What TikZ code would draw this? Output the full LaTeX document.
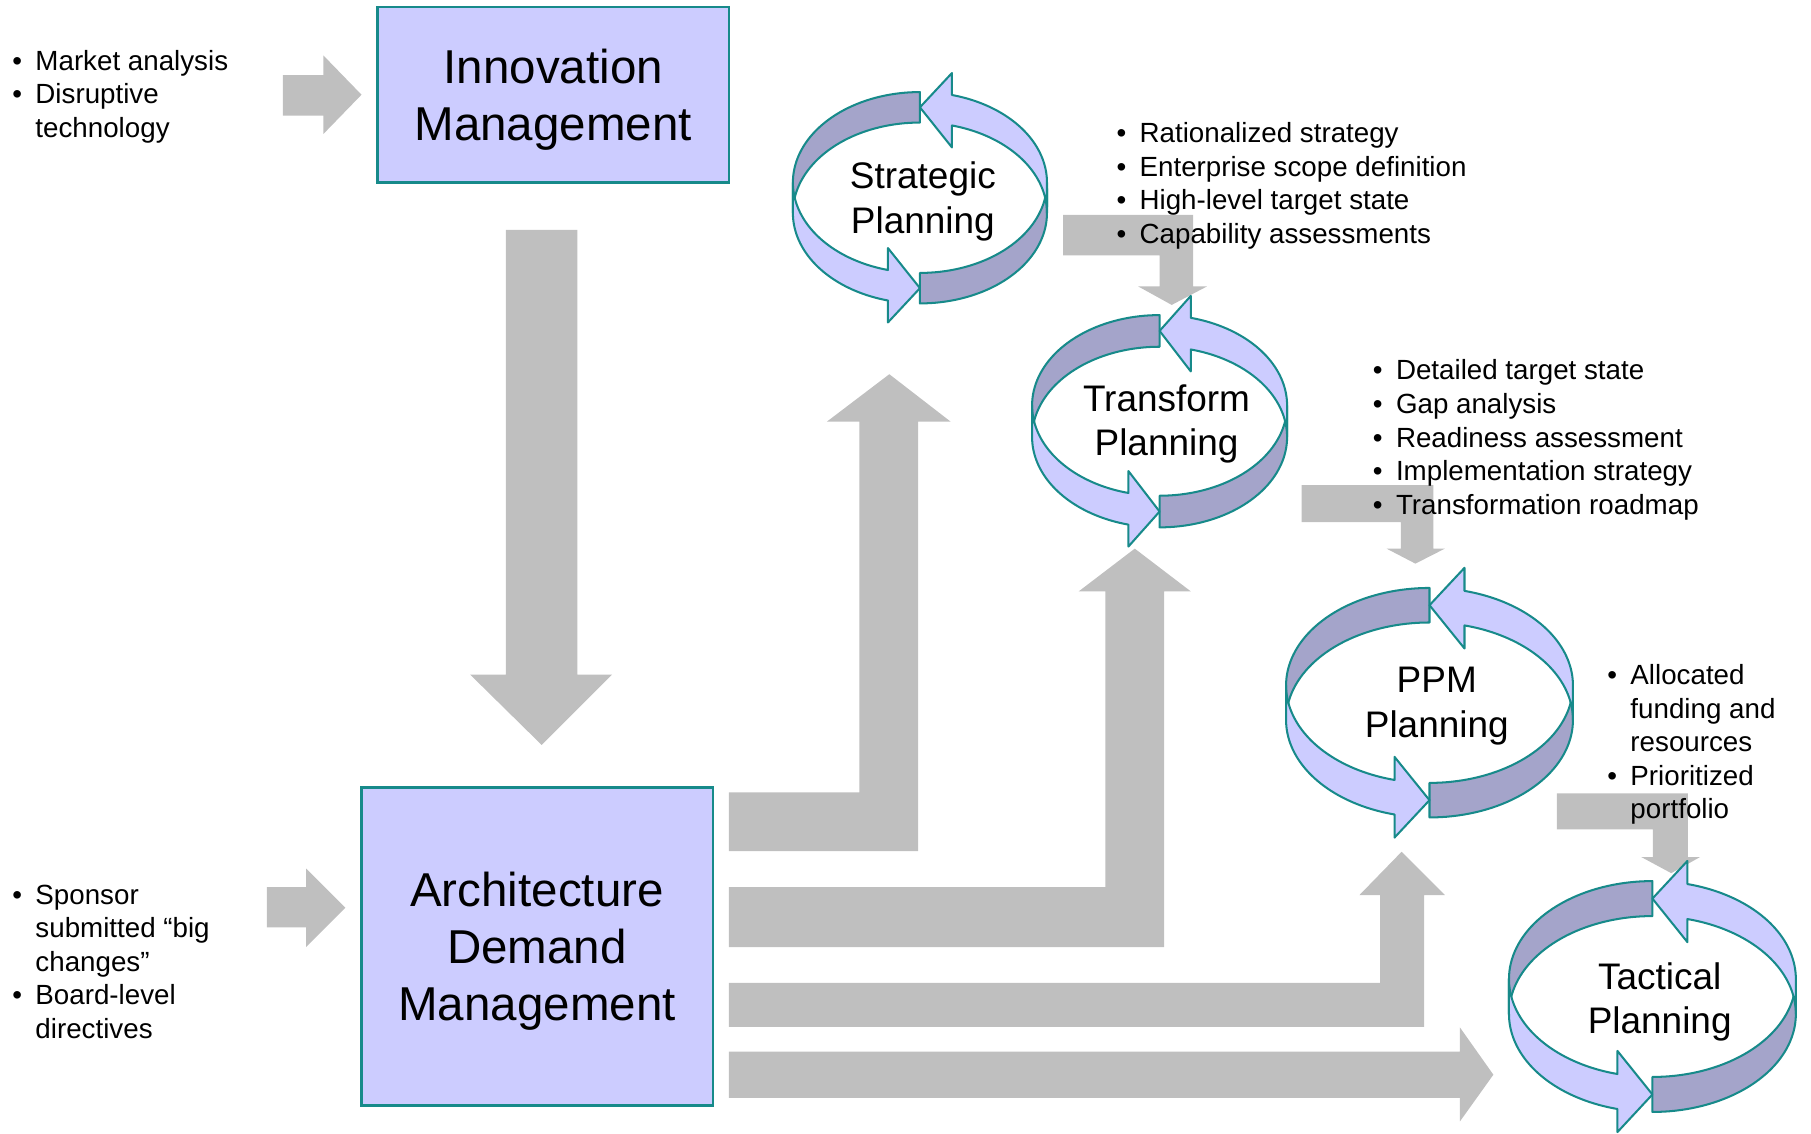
\documentclass[tikz,border=0pt]{standalone}
\usepackage{fontspec}
\setmainfont{Liberation Sans}
\usepackage{tikz}
\usetikzlibrary{calc}

\definecolor{boxfill}{HTML}{CCCCFF}
\definecolor{loopdark}{HTML}{A4A4CA}
\definecolor{loopline}{HTML}{178A8A}
\definecolor{flowgray}{HTML}{BFBFBF}

\tikzset{
  mgmtbox/.style={draw=loopline,line width=0.6pt,fill=boxfill,align=center,inner sep=0pt,
    minimum width=3.04cm,text depth=0pt,font=\fontsize{11.7}{14.1}\selectfont},
  looptext/.style={align=center,inner sep=0pt,text depth=0pt,font=\fontsize{9.1}{10.9}\selectfont},
  notes/.style={anchor=base west,inner sep=0pt,font=\fontsize{6.83}{8.25}\selectfont},
  flow/.style={fill=flowgray},
  loopback/.style={fill=loopdark,draw=loopline,line width=0.5pt,line join=round},
  loopfront/.style={fill=boxfill,draw=loopline,line width=0.5pt,line join=round}
}

\newcommand{\bl}{\makebox[0.2cm][l]{\textbullet}}

% #1,#2 centre, #3,#4 radii, #5 band, #6 head offset, #7 head flank
\newcommand{\planloop}[7]{%
  \begin{scope}[shift={(#1,#2)}]
    \pgfmathsetmacro{\hb}{acos(#6/#3)}
    \pgfmathsetmacro{\hc}{180+\hb}
    \pgfmathsetmacro{\hy}{#4*sin(\hb)}
    \filldraw[loopback] plot[domain=90:180,samples=40] ({#3*cos(\x)},{-#5/2-#4*sin(\x)})
      -- plot[domain=180:90,samples=40] ({#3*cos(\x)},{#5/2-#4*sin(\x)}) -- cycle;
    \filldraw[loopback] plot[domain=270:360,samples=40] ({#3*cos(\x)},{-#5/2-#4*sin(\x)})
      -- plot[domain=360:270,samples=40] ({#3*cos(\x)},{#5/2-#4*sin(\x)}) -- cycle;
    \filldraw[loopfront] plot[domain=0:\hb,samples=40] ({#3*cos(\x)},{-#5/2-#4*sin(\x)})
      -- (#6,{-#5/2-\hy-#7}) -- (0,-#4) -- (#6,{#5/2-\hy+#7})
      -- plot[domain=\hb:0,samples=40] ({#3*cos(\x)},{#5/2-#4*sin(\x)}) -- cycle;
    \filldraw[loopfront] plot[domain=180:\hc,samples=40] ({#3*cos(\x)},{-#5/2-#4*sin(\x)})
      -- (-#6,{-#5/2+\hy-#7}) -- (0,#4) -- (-#6,{#5/2+\hy+#7})
      -- plot[domain=\hc:180,samples=40] ({#3*cos(\x)},{#5/2-#4*sin(\x)}) -- cycle;
  \end{scope}}

\begin{document}
\begin{tikzpicture}[x=0.01cm,y=-0.01cm]
\useasboundingbox (0,0) rectangle (1568,981);

\fill[flow] (245,65)--(280,65)--(280,48)--(313,82)--(280,116)--(280,100)--(245,100)--cycle;
\fill[flow] (231,768)--(265,768)--(265,752)--(299,786)--(265,820)--(265,803)--(231,803)--cycle;
\fill[flow] (438,199)--(500,199)--(500,584)--(530,584)--(469,645)--(407,584)--(438,584)--cycle;
\fill[flow] (631,686)--(744,686)--(744,365)--(716,365)--(770,324)--(823,365)--(795,365)--(795,737)--(631,737)--cycle;
\fill[flow] (631,768)--(957,768)--(957,512)--(934,512)--(982.5,475)--(1031,512)--(1008,512)--(1008,820)--(631,820)--cycle;
\fill[flow] (631,851)--(1195,851)--(1195,775)--(1177,775)--(1213.5,737.5)--(1251,775)--(1233,775)--(1233,889)--(631,889)--cycle;
\fill[flow] (631,910.5)--(1264,910.5)--(1264,889.5)--(1293,930.5)--(1264,971)--(1264,950.5)--(631,950.5)--cycle;
\fill[flow] (920.5,186)--(1033,186)--(1033,248)--(1045,248)--(1014.5,264)--(985.5,248)--(1004,248)--(1004,221)--(920.5,221)--cycle;
\fill[flow] (1127,420)--(1241,420)--(1241,475)--(1251,475)--(1225.5,488)--(1200.5,475)--(1213,475)--(1213,452)--(1127,452)--cycle;
\fill[flow] (1348,687)--(1461.5,687)--(1461.5,742)--(1472,742)--(1447,756)--(1421,742)--(1431,742)--(1431,718)--(1348,718)--cycle;

\node[mgmtbox,minimum height=1.52cm] (innov) at (479,82) {Innovation\\Management};
\node[mgmtbox,minimum height=2.75cm] (adm) at (465,819.5) {Architecture\\Demand\\Management};

\planloop{796.5}{171.2}{110}{78.3}{26.4}{27.7}{19}
\planloop{1004}{364.7}{110.4}{78.2}{27.4}{27}{19}
\planloop{1237.7}{608.4}{124.2}{84.4}{29.9}{30.3}{20}
\planloop{1430.7}{862.8}{124.2}{84.8}{30.3}{30.3}{20}

\node[looptext] (strat) at (799,171) {Strategic\\Planning};
\node[looptext] (trans) at (1010,364) {Transform\\Planning};
\node[looptext] (ppm) at (1244,608) {PPM\\Planning};
\node[looptext] (tact) at (1437,864) {Tactical\\Planning};

\node[notes] (mktin) at (10,61) {\begin{tabular}[t]{@{}l@{}l@{}}
  \bl&Market analysis\\ \bl&Disruptive\\ &technology\end{tabular}};
\node[notes] (sponsorin) at (10,783) {\begin{tabular}[t]{@{}l@{}l@{}}
  \bl&Sponsor\\ &submitted “big\\ &changes”\\ \bl&Board-level\\ &directives\end{tabular}};
\node[notes] (stratout) at (966,123.5) {\begin{tabular}[t]{@{}l@{}l@{}}
  \bl&Rationalized strategy\\ \bl&Enterprise scope definition\\
  \bl&High-level target state\\ \bl&Capability assessments\end{tabular}};
\node[notes] (transout) at (1188,329) {\begin{tabular}[t]{@{}l@{}l@{}}
  \bl&Detailed target state\\ \bl&Gap analysis\\ \bl&Readiness assessment\\
  \bl&Implementation strategy\\ \bl&Transformation roadmap\end{tabular}};
\node[notes] (ppmout) at (1391,593) {\begin{tabular}[t]{@{}l@{}l@{}}
  \bl&Allocated\\ &funding and\\ &resources\\ \bl&Prioritized\\ &portfolio\end{tabular}};
\end{tikzpicture}
\end{document}
